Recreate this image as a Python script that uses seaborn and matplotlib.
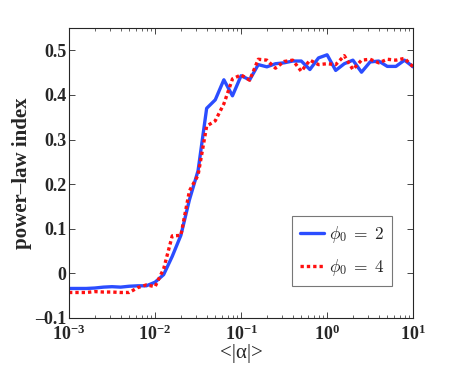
import numpy as np
import pandas as pd
import matplotlib
matplotlib.use('Agg')
import matplotlib.pyplot as plt
import seaborn as sns

# log10 of <|alpha|>, sampled every 0.1 decade
log_alpha = [round(-3 + 0.1 * i, 1) for i in range(41)]

# power-law index, phi_0 = 2
index_phi2 = [-0.034, -0.034, -0.034, -0.033, -0.031, -0.030, -0.031, -0.029, -0.028, -0.028,
              -0.020, -0.003, 0.038, 0.085, 0.165, 0.230, 0.370, 0.389, 0.434, 0.398,
              0.443, 0.434, 0.468, 0.463, 0.470, 0.472, 0.476, 0.476, 0.457, 0.483,
              0.490, 0.455, 0.470, 0.478, 0.451, 0.474, 0.476, 0.464, 0.464, 0.478,
              0.463]

# power-law index, phi_0 = 4
index_phi4 = [-0.043, -0.043, -0.043, -0.041, -0.042, -0.042, -0.043, -0.043, -0.032, -0.026,
              -0.030, 0.010, 0.084, 0.085, 0.185, 0.220, 0.330, 0.342, 0.380, 0.436,
              0.445, 0.433, 0.480, 0.478, 0.460, 0.475, 0.478, 0.453, 0.478, 0.468,
              0.470, 0.468, 0.488, 0.457, 0.478, 0.480, 0.472, 0.480, 0.478, 0.482,
              0.463]

y_ticks = [-0.1, 0, 0.1, 0.2, 0.3, 0.4, 0.5]
y_ticklabels = ['\u20130.1', '0', '0.1', '0.2', '0.3', '0.4', '0.5']

alpha = 10 ** np.array(log_alpha)

sns.set_style('ticks')
plt.rcParams['font.family'] = ['Liberation Serif', 'DejaVu Serif']
plt.rcParams['mathtext.fontset'] = 'cm'

fig = plt.figure(figsize=(4.57, 3.74), dpi=100)
ax = fig.add_axes([0.151, 0.150, 0.753, 0.775])

sns.lineplot(x=alpha, y=index_phi2, ax=ax, color='#2b4dff', linewidth=2.4,
             label=r'$\phi_0\;=\;\mathbf{2}$')
sns.lineplot(x=alpha, y=index_phi4, ax=ax, color='#ff1010', linewidth=2.4,
             linestyle=(0, (1.0, 0.9)), label=r'$\phi_0\;=\;\mathbf{4}$')

ax.set_xscale('log')
ax.set_xlim(1e-3, 10)
ax.set_ylim(-0.1, 0.55)
ax.set_yticks(y_ticks)
ax.set_yticklabels(y_ticklabels)

ax.tick_params(which='both', direction='in', top=True, right=True, labelsize=13)
ax.tick_params(axis='y', pad=2)
ax.tick_params(axis='x', pad=5)
ax.tick_params(which='major', length=4, width=0.6)
ax.tick_params(which='minor', length=2, width=0.5)
for lab in ax.get_xticklabels() + ax.get_yticklabels():
    lab.set_fontweight('bold')
for s in ax.spines.values():
    s.set_linewidth(0.8)

ax.set_xlabel('<|α|>', fontsize=15, labelpad=0)
ax.set_ylabel('power\u2013law index', fontsize=15, fontweight='bold', labelpad=2)

leg = ax.legend(loc='lower right', bbox_to_anchor=(0.94, 0.11), fontsize=12.5,
                frameon=True, fancybox=False, edgecolor='#555555',
                handlelength=1.4, handletextpad=0.3, borderpad=0.45, labelspacing=0.7,
                borderaxespad=0)
leg.get_frame().set_linewidth(0.8)

fig.savefig('out.png', dpi=100)
